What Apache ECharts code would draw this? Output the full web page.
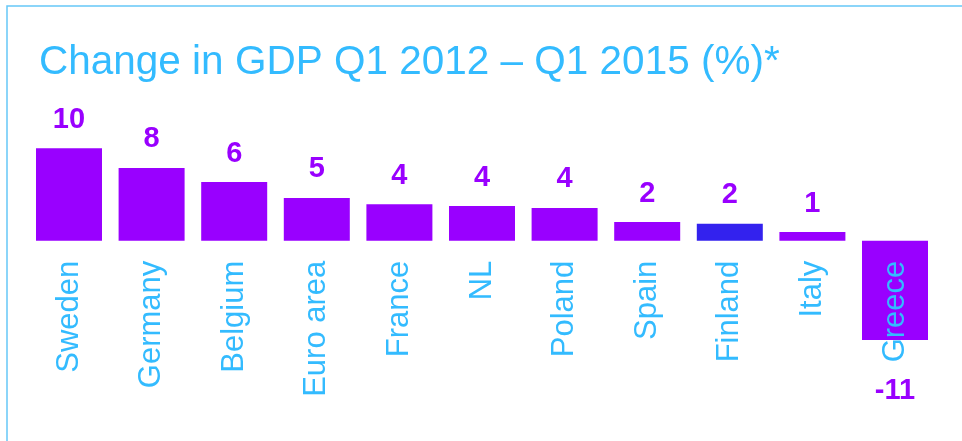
<!DOCTYPE html>
<html>
<head>
<meta charset="utf-8">
<script src="https://cdn.jsdelivr.net/npm/echarts@6/dist/echarts.min.js"></script>
<style>html,body{margin:0;padding:0;background:#fff}#c{width:962px;height:441px}</style>
</head>
<body>
<div id="c"></div>
<script>
const titleText = 'Change in GDP Q1 2012 \u2013 Q1 2015 (%)*';
const categories = ['Sweden','Germany','Belgium','Euro area','France','NL','Poland','Spain','Finland','Italy','Greece'];
const values = [10.15, 8.0, 6.45, 4.7, 4.0, 3.8, 3.6, 2.05, 1.85, 0.95, -10.9];
const highlightCategory = 'Finland';

const narrowOk = (function(){
  const c = document.createElement('canvas').getContext('2d');
  c.font = '40px "Liberation Sans Narrow", monospace';
  const a = c.measureText('Change in GDP').width;
  c.font = '40px monospace';
  const b = c.measureText('Change in GDP').width;
  return Math.abs(a - b) > 1;
})();
const titleFont = narrowOk ? '"Liberation Sans Narrow", "Liberation Sans", Arial' : '"Liberation Sans", Arial';
const titleSize = narrowOk ? 48 : 40.5;

const purple = '#9900ff';
const blue = '#3322ee';
const lightBlue = '#33bbff';

const chart = echarts.init(document.getElementById('c'));
chart.setOption({
  animation: false,
  title: {
    text: titleText, left: 34, top: narrowOk ? 32 : 37,
    textStyle: { color: lightBlue, fontFamily: titleFont, fontSize: titleSize, fontWeight: 'normal' }
  },
  graphic: [{
    type: 'polyline',
    shape: { points: [[7, 441], [7, 6], [962, 6]] },
    style: { stroke: '#66c8f8', lineWidth: 1.5, fill: null }
  }],
  grid: { left: 27.7, right: 25.7, top: 131.5, bottom: 200.3, containLabel: false, outerBoundsMode: 'none' },
  xAxis: {
    type: 'category', data: categories, z: 10,
    axisLine: { show: false, onZero: false },
    axisTick: { show: false },
    splitLine: { show: false },
    axisLabel: { rotate: 90, margin: 20, color: lightBlue, fontSize: 31, fontFamily: '"Liberation Sans", Arial', interval: 0 }
  },
  yAxis: {
    type: 'value', min: 0, max: 12, show: false, splitLine: { show: false }
  },
  series: [{
    type: 'bar',
    barWidth: 66,
    clip: false,
    z: 2,
    data: values.map((v, i) => ({
      value: v,
      itemStyle: { color: categories[i] === highlightCategory ? blue : purple },
      label: v < 0 ? { position: 'bottom', distance: 37 } : undefined
    })),
    label: {
      show: true, position: 'top', distance: 14,
      color: purple, fontSize: 29, fontWeight: 'bold', fontFamily: '"Liberation Sans", Arial',
      formatter: p => String(Math.round(p.value))
    }
  }]
});
</script>
</body>
</html>
